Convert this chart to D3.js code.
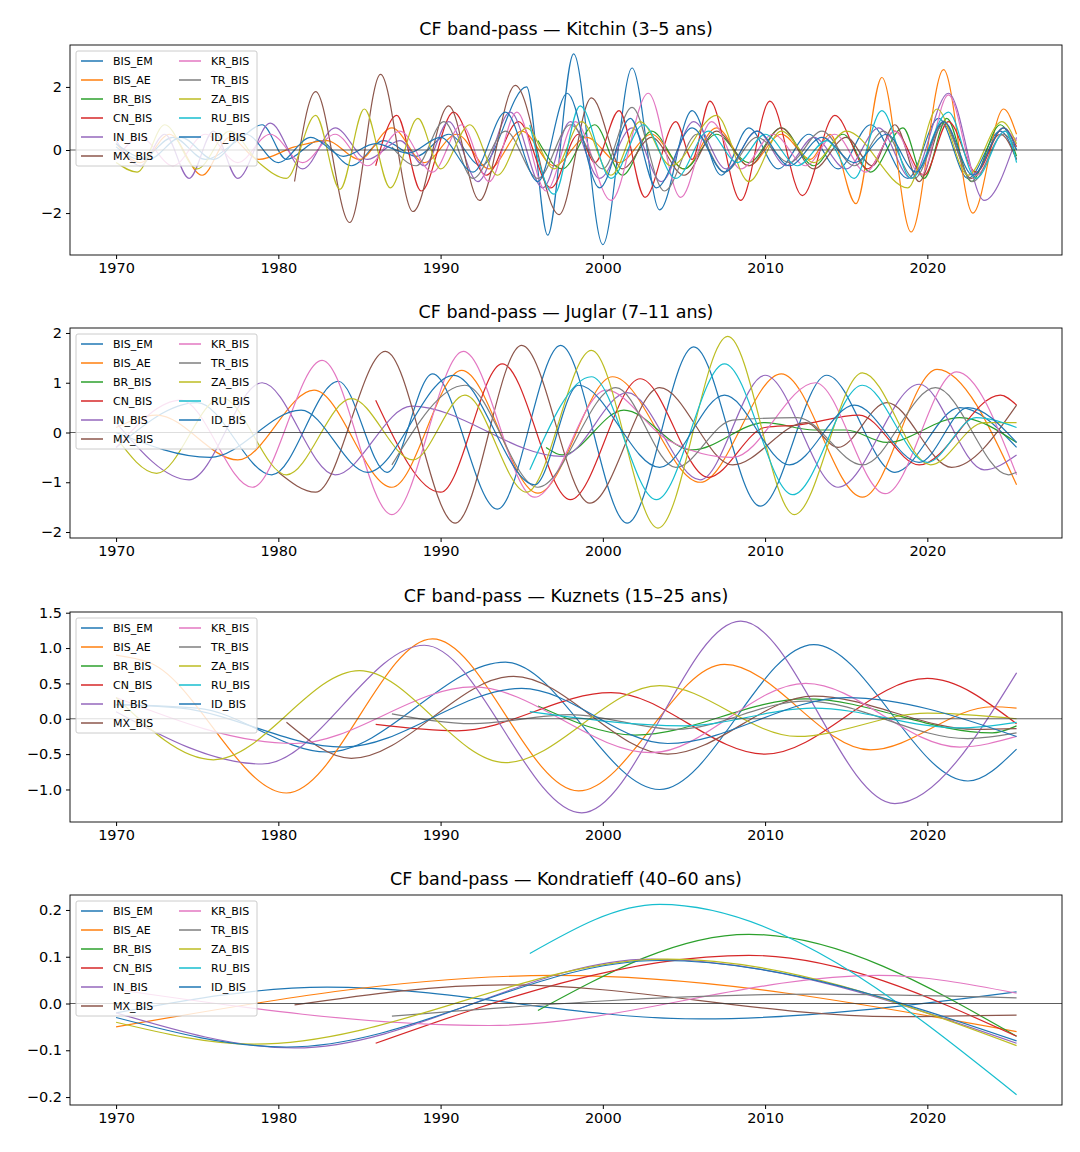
<!DOCTYPE html>
<html>
<head>
<meta charset="utf-8">
<script src="https://cdn.jsdelivr.net/npm/d3@7"></script>
<style>
  body { margin: 0; background: #fff; }
  svg { font-family: "DejaVu Sans", sans-serif; }
</style>
</head>
<body>
<svg id="chart" width="1080" height="1152"></svg>
<script>
const seriesNames = ['BIS_EM','BIS_AE','BR_BIS','CN_BIS','IN_BIS','MX_BIS','KR_BIS','TR_BIS','ZA_BIS','RU_BIS','ID_BIS']
const colors = ['#1f77b4','#ff7f0e','#2ca02c','#d62728','#9467bd','#8c564b','#e377c2','#7f7f7f','#bcbd22','#17becf','#1f77b4']
const titles = ['CF band-pass — Kitchin (3–5 ans)','CF band-pass — Juglar (7–11 ans)','CF band-pass — Kuznets (15–25 ans)','CF band-pass — Kondratieff (40–60 ans)']
const xTicks = [1970,1980,1990,2000,2010,2020]
const yTicks = [[-2,0,2],[-2,-1,0,1,2],[-1,-0.5,0,0.5,1,1.5],[-0.2,-0.1,0,0.1,0.2]]
const yDomains = [[-3.33,3.33],[-2.12,2.1],[-1.46,1.51],[-0.217,0.232]]

// extrema [year, value] of each filtered series, same order as seriesNames
const kitchin = [
  [[1970,0.1],[1971.5,-0.3],[1973.5,0.4],[1975.5,-0.3],[1977.5,0.3],[1979,0.8],[1980.5,-0.3],[1982.5,0.3],[1984.5,-0.5],[1986.5,0.3],[1988.5,-0.2],[1990.5,0.5],[1992.5,-0.5],[1995.3,2.0],[1996.6,-2.7],[1998.2,3.05],[2000,-3.0],[2001.8,2.6],[2003.5,-1.9],[2005.5,1.25],[2007.3,-0.8],[2009,0.7],[2010.8,-0.6],[2012.7,0.5],[2014.5,-0.6],[2016.5,0.8],[2018.8,-0.9],[2020.7,1.0],[2022.5,-0.9],[2024.5,0.6],[2025.5,-0.3]],
  [[1970,0.2],[1971.5,-0.4],[1973.3,0.5],[1975.3,-0.8],[1977,0.4],[1978.8,-0.3],[1981,0.1],[1983,0.3],[1985,-0.3],[1987,0.7],[1989,-0.4],[1991,0.5],[1993,-0.6],[1995,0.6],[1997,-0.5],[1999,0.4],[2001,-0.4],[2003,0.5],[2005,-0.6],[2007,0.7],[2009,-0.5],[2011,0.5],[2012.8,-0.3],[2014,0.5],[2015.6,-1.7],[2017.2,2.3],[2019,-2.6],[2021,2.55],[2022.8,-2.0],[2024.7,1.3],[2025.5,0.5]],
  [[1996,0.3],[1997.5,-0.6],[1999.5,0.8],[2001.2,-0.8],[2003,0.6],[2005,-0.6],[2007,0.5],[2009,-0.4],[2011,0.7],[2013,-0.5],[2014.8,0.5],[2016.5,-0.7],[2018.5,0.7],[2019.8,-0.9],[2021.2,1.0],[2022.7,-1.0],[2024.5,0.8],[2025.5,-0.2]],
  [[1986,-0.5],[1987.3,1.1],[1988.8,-1.3],[1990.8,1.2],[1992.8,-0.8],[1994.8,0.9],[1996.8,-1.2],[1998.5,0.5],[1999.5,-0.4],[2001,1.25],[2002.6,-1.5],[2004.5,0.9],[2005.5,-0.3],[2006.6,1.55],[2008.5,-1.6],[2010.3,1.55],[2012.3,-1.45],[2014.3,1.1],[2016.3,-0.6],[2018,0.6],[2019.8,-0.8],[2021.3,0.9],[2023,-0.7],[2024.7,0.7],[2025.5,0.1]],
  [[1970,0.3],[1971.5,-0.5],[1973,0.5],[1974.5,-0.9],[1976,0.6],[1977.5,-0.9],[1979.5,0.85],[1981.5,-0.6],[1983.5,0.7],[1985.5,-0.3],[1987.5,0.3],[1989,-0.5],[1990.5,0.9],[1992.3,-1.0],[1994.3,1.2],[1996.3,-1.2],[1998,0.9],[1999.8,-0.9],[2001.8,0.7],[2003.6,-1.0],[2005.6,0.9],[2007.6,-0.6],[2009.5,0.6],[2011.3,-0.5],[2013,0.4],[2015,-0.6],[2017,0.7],[2019,-0.9],[2021.3,1.8],[2023.5,-1.6],[2025.5,0.4]],
  [[1981,-1.0],[1982.3,1.85],[1984.4,-2.3],[1986.3,2.4],[1988.3,-1.95],[1990.5,1.4],[1992.4,-1.6],[1994.6,2.05],[1997.3,-2.05],[1999.3,1.65],[2001.2,-0.6],[2003,0.4],[2005,-0.8],[2007,0.6],[2009,-0.5],[2011,0.7],[2013,-0.6],[2015,0.4],[2016.6,-0.5],[2018,0.8],[2019.5,-1.0],[2021,0.9],[2022.7,-0.9],[2024.5,0.5],[2025.5,-0.3]],
  [[1970,-0.3],[1971.5,0.4],[1973.5,-0.5],[1975.5,0.5],[1977.5,-0.4],[1979.5,0.5],[1981.5,-0.4],[1983.5,0.5],[1985.5,-0.5],[1987.5,0.6],[1989.5,-0.7],[1991.3,0.8],[1993,-1.0],[1994.7,1.2],[1996.5,-1.3],[1998.3,0.9],[2000.5,-1.6],[2002.8,1.8],[2004.8,-1.5],[2006.7,0.9],[2008.5,-0.6],[2010.5,0.5],[2012.5,-0.5],[2014.3,0.5],[2016.2,-0.7],[2018,0.6],[2019.6,-0.8],[2021.3,1.75],[2023,-0.8],[2024.8,0.6],[2025.5,0.3]],
  [[1987,0.1],[1988.5,-0.5],[1990.2,0.9],[1992,-0.9],[1994,0.6],[1996,-0.9],[1998,0.8],[2000,-0.6],[2001.8,1.35],[2003.8,-1.3],[2005.8,0.5],[2007.5,-0.7],[2009.5,0.4],[2011.5,-0.4],[2013.5,0.6],[2015.5,-0.5],[2017.3,0.6],[2019.2,-0.9],[2021,0.8],[2022.8,-1.0],[2024.7,0.5],[2025.5,0]],
  [[1970,-0.4],[1971.3,-0.7],[1973,0.8],[1975,-0.6],[1977,0.6],[1978.8,-0.4],[1980.5,-0.9],[1982.3,1.1],[1983.8,-1.25],[1985.3,1.3],[1986.9,-1.2],[1988.6,1.0],[1990,-0.6],[1991.8,0.8],[1993.5,-0.8],[1995.3,0.7],[1997,-0.6],[1998.7,0.9],[2000.5,-0.8],[2002.3,0.9],[2004.2,-0.5],[2007,1.1],[2009,-1.0],[2011,0.6],[2013,-0.4],[2015,0.6],[2018.8,-1.2],[2020.6,1.3],[2022.5,-0.8],[2024.6,0.9],[2025.5,0.2]],
  [[1995.5,0.8],[1997,-1.4],[1998.6,1.4],[2000.5,-0.9],[2002.5,0.8],[2004.5,-0.9],[2006.5,0.6],[2008.3,-0.4],[2010,0.5],[2012,-0.5],[2013.8,0.3],[2015.5,-0.9],[2017.2,1.25],[2019,-0.9],[2021.3,1.2],[2023,-0.9],[2024.8,0.6],[2025.5,-0.4]],
  [[1970,0.2],[1972,-0.3],[1974,0.4],[1976,-0.3],[1978,0.5],[1980,-0.4],[1982,0.4],[1984,-0.2],[1986,0.2],[1988,-0.1],[1990,0.4],[1992,-0.7],[1994,1.2],[1996,-1.0],[1997.8,1.8],[1999.8,-1.2],[2001.7,1.0],[2003.3,-1.2],[2005.5,0.7],[2007.5,-0.7],[2009.5,0.6],[2011.5,-0.5],[2013.5,0.4],[2015.5,-0.4],[2017.5,0.5],[2019.3,-0.7],[2021,0.9],[2022.8,-0.8],[2024.7,0.7],[2025.5,0]]
]

const juglar = [
  [[1970,-0.3],[1975,0.6],[1979.6,-0.85],[1983.7,1.03],[1986.7,-0.8],[1989.5,1.18],[1993.5,-1.54],[1997.4,1.75],[2001.5,-1.82],[2005.6,1.72],[2009.7,-1.48],[2013.8,1.15],[2018,-0.8],[2022,0.5],[2025.5,-0.3]],
  [[1970,0.1],[1972.5,0.35],[1977.5,-0.55],[1982.2,0.85],[1987,-1.1],[1991.3,1.25],[1996,-1.22],[2000.6,1.12],[2006,-1.0],[2011,1.18],[2016,-1.3],[2020.6,1.27],[2025.5,-1.05]],
  [[1996.5,-0.3],[1997.5,-0.45],[2001.3,0.45],[2005.5,-0.35],[2010,0.2],[2013,0.05],[2015,0.05],[2017.5,-0.2],[2022,0.3],[2025.5,-0.2]],
  [[1986,0.65],[1990,-1.2],[1993.8,1.38],[1998,-1.35],[2002.3,1.08],[2006.5,-0.9],[2010,0.1],[2012,0.15],[2015.8,0.35],[2019.5,-0.65],[2024.5,0.75],[2025.5,0.55]],
  [[1970,0.2],[1974.5,-0.95],[1979,1.0],[1983.5,-0.85],[1988.2,0.53],[1997.5,-0.48],[2001.5,0.8],[2006,-0.95],[2010,1.15],[2014.5,-1.1],[2019.5,0.97],[2023.5,-0.75],[2025.5,-0.45]],
  [[1980,-0.8],[1982.3,-1.2],[1986.6,1.63],[1990.9,-1.82],[1995,1.75],[1999.2,-1.42],[2003.5,0.9],[2008,-0.65],[2012.5,0.2],[2014.5,-0.3],[2017.5,0.6],[2021.5,-0.7],[2025.5,0.55]],
  [[1970,-0.3],[1974,0.65],[1978.4,-1.1],[1982.7,1.45],[1987,-1.65],[1991.4,1.63],[1995.8,-1.3],[2000.2,0.85],[2004,-0.15],[2008,-0.5],[2013.1,1.0],[2017.4,-1.23],[2021.8,1.22],[2025.5,-0.85]],
  [[1987,-0.65],[1991.5,0.95],[1996,-1.1],[2000.8,0.9],[2004.5,-0.7],[2008,0.25],[2012,0.3],[2016,-0.65],[2020.5,0.9],[2025,-0.85],[2025.5,-0.8]],
  [[1970,-0.1],[1972.5,-0.82],[1976.5,0.7],[1980.5,-0.85],[1984.5,0.68],[1988.3,-0.55],[1991.5,0.75],[1995.3,-1.2],[1999.3,1.65],[2003.4,-1.92],[2007.7,1.93],[2011.8,-1.65],[2016,1.2],[2020.2,-0.65],[2023.5,0.2],[2025.5,0.2]],
  [[1995.5,-0.75],[1999.3,1.12],[2003.3,-1.35],[2007.5,1.38],[2011.7,-1.25],[2016,0.95],[2020,-0.6],[2023,0.3],[2025.5,0.1]],
  [[1970,0.0],[1975.8,-0.5],[1981.4,0.45],[1985.5,-0.8],[1990.8,1.15],[1995.8,-1.05],[1998.5,0.95],[2003.5,-0.7],[2007.5,0.75],[2011.5,-0.65],[2015.5,0.55],[2019.5,-0.6],[2022.5,0.5],[2025.5,-0.2]]
]

const kuznets = [
  [[1970,0.2],[1975,0.15],[1983,-0.47],[1994,0.8],[2003.5,-1.0],[2013,1.05],[2022.5,-0.88],[2025.5,-0.43]],
  [[1970,0.9],[1972,0.8],[1980.5,-1.05],[1989.5,1.13],[1998.5,-1.02],[2007.5,0.77],[2016.5,-0.44],[2024,0.17],[2025.5,0.15]],
  [[1996,0.18],[2002,-0.23],[2012.5,0.28],[2024,-0.2],[2025.5,-0.1]],
  [[1986,-0.08],[1991,-0.17],[2000.5,0.37],[2010,-0.5],[2020,0.57],[2025.5,-0.07]],
  [[1970,0.1],[1979,-0.64],[1989,1.04],[1998.7,-1.33],[2008.5,1.38],[2018,-1.2],[2025.5,0.65]],
  [[1980.5,-0.05],[1984.5,-0.56],[1994.5,0.6],[2004,-0.5],[2013,0.32],[2023,-0.15],[2025.5,-0.14]],
  [[1970,0.3],[1981,-0.35],[1992,0.45],[2003,-0.48],[2012.5,0.5],[2022,-0.4],[2025.5,-0.25]],
  [[1987,0.07],[1992,-0.07],[1998,0.06],[2004.5,-0.15],[2012.5,0.25],[2022.5,-0.28],[2025.5,-0.2]],
  [[1970,0.3],[1976,-0.58],[1985,0.68],[1994,-0.62],[2003.5,0.47],[2012,-0.25],[2020,0.08],[2025.5,0]],
  [[1995.5,0.1],[2005,-0.1],[2013,0.15],[2022,-0.13],[2025.5,-0.05]],
  [[1970,0.2],[1974,0.15],[1984,-0.4],[1995,0.43],[2004,-0.35],[2015,0.3],[2025.5,-0.25]]
]

const kondratieff = [
  [[1970,-0.02],[1983,0.035],[2006,-0.033],[2025.5,0.025]],
  [[1970,-0.05],[1997,0.06],[2025.5,-0.06]],
  [[1996,-0.015],[2009,0.148],[2025.5,-0.07]],
  [[1986,-0.085],[2009,0.103],[2025.5,-0.07]],
  [[1970,-0.02],[1981,-0.095],[2003,0.095],[2025.5,-0.085]],
  [[1981,-0.003],[1994,0.04],[2018,-0.028],[2025.5,-0.025]],
  [[1970,0.03],[1993,-0.047],[2017,0.06],[2025.5,0.022]],
  [[1987,-0.027],[2013,0.02],[2025.5,0.012]],
  [[1970,-0.04],[1978.5,-0.087],[2004,0.095],[2025.5,-0.09]],
  [[1995.5,0.107],[2003.5,0.212],[2025.5,-0.195]],
  [[1970,-0.03],[1980.5,-0.093],[2003.5,0.092],[2025.5,-0.08]]
]

const panels = [kitchin, juglar, kuznets, kondratieff]
const panelTops = [45, 328, 612, 895]
const plotH = 210
const left = 70, right = 1062

const svg = d3.select('#chart')
const x = d3.scaleLinear().domain([1967.16, 2028.3]).range([left, right])
const minus = s => s.replace('-', '\u2212')

panels.forEach((data, p) => {
  const top = panelTops[p]
  const y = d3.scaleLinear().domain(yDomains[p]).range([top + plotH, top])
  const g = svg.append('g')

  g.append('text').attr('x', (left + right) / 2).attr('y', top - 10)
    .attr('text-anchor', 'middle').attr('font-size', 17.5).text(titles[p])

  const fmt = p < 2 ? d3.format('d') : d3.format('.1f')
  const yAx = g.append('g').attr('transform', `translate(${left},0)`)
    .call(d3.axisLeft(y).tickValues(yTicks[p]).tickSize(4).tickPadding(4).tickFormat(d => minus(fmt(d))))
  yAx.select('.domain').remove()
  yAx.selectAll('text').attr('font-size', 14.5).attr('font-family', 'DejaVu Sans')
  const xAx = g.append('g').attr('transform', `translate(0,${top + plotH})`)
    .call(d3.axisBottom(x).tickValues(xTicks).tickSize(4).tickPadding(4).tickFormat(d3.format('d')))
  xAx.select('.domain').remove()
  xAx.selectAll('text').attr('font-size', 14.5).attr('font-family', 'DejaVu Sans')

  const clipId = 'clip' + p
  svg.append('clipPath').attr('id', clipId).append('rect')
    .attr('x', left).attr('y', top).attr('width', right - left).attr('height', plotH)

  const line = d3.line().x(d => x(d[0])).y(d => y(d[1])).curve(d3.curveMonotoneX)
  const lines = g.append('g').attr('clip-path', `url(#${clipId})`)
  data.forEach((s, i) => {
    lines.append('path').attr('d', line(s)).attr('fill', 'none')
      .attr('stroke', colors[i]).attr('stroke-width', 1.2)
  })
  lines.append('line').attr('x1', left).attr('x2', right).attr('y1', y(0)).attr('y2', y(0))
    .attr('stroke', '#333').attr('stroke-width', 0.8)

  g.append('rect').attr('x', left).attr('y', top).attr('width', right - left).attr('height', plotH)
    .attr('fill', 'none').attr('stroke', '#000').attr('stroke-width', 0.9)

  // legend
  const lg = g.append('g').attr('transform', `translate(${left + 6},${top + 6})`)
  lg.append('rect').attr('width', 181).attr('height', 115).attr('rx', 2)
    .attr('fill', 'white').attr('fill-opacity', 0.8).attr('stroke', '#ccc')
  seriesNames.forEach((n, i) => {
    const col = i < 6 ? 0 : 1
    const row = i < 6 ? i : i - 6
    const ix = 5 + col * 98, iy = 10 + row * 19
    lg.append('line').attr('x1', ix).attr('x2', ix + 22).attr('y1', iy).attr('y2', iy)
      .attr('stroke', colors[i]).attr('stroke-width', 1.5)
    lg.append('text').attr('x', ix + 32).attr('y', iy + 4).attr('font-size', 11).text(n)
  })
})
</script>
</body>
</html>
